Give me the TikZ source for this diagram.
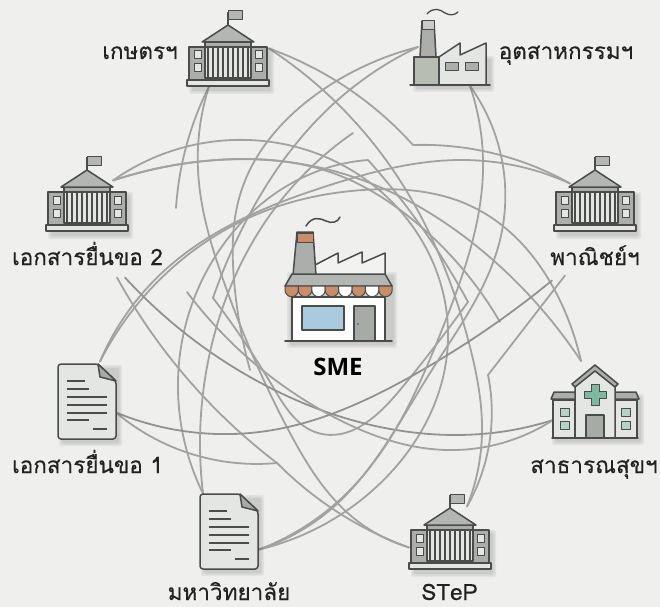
\documentclass[tikz,border=0pt]{standalone}
\usepackage{fontspec}
\usetikzlibrary{calc,hobby}
\newfontfamily\thaifont[Script=Thai,FakeBold=0.4]{Loma}
\newfontfamily\latinbold{Open Sans}
\definecolor{paper}{HTML}{EFEFED}
\definecolor{ink}{HTML}{4A4C4C}
\definecolor{txt}{HTML}{222222}
\definecolor{wire}{HTML}{A2A2A2}
\definecolor{wiredk}{HTML}{929292}
\definecolor{roofg}{HTML}{B4B6B3}
\definecolor{bodyg}{HTML}{ACAEAB}
\definecolor{pale}{HTML}{E4E6E3}
\definecolor{greeng}{HTML}{B7BDB1}
\definecolor{rust}{HTML}{C98E68}
\definecolor{skyb}{HTML}{A9CBDD}
\definecolor{mint}{HTML}{7DB8A0}
\definecolor{doorg}{HTML}{A6ABA6}
\tikzset{
  conn/.style={draw=wire,line width=1.8pt,line join=round,line cap=round},
  conndk/.style={conn,draw=wiredk},
  iconarea/.style={inner sep=0pt,outer sep=0pt,minimum width=#1},
  lab/.style={inner sep=0pt,anchor=base,text=txt,font=\thaifont\fontsize{22.5}{25}\selectfont},
  o/.style={draw=ink,line width=1.5pt,line join=round},
  oo/.style={draw=ink,line width=1pt,line join=round},
}
\newcommand{\softshadow}[4]{%
  \foreach \g in {4,2.5,1}{\fill[black,opacity=.05,rounded corners=2pt] (#1-\g+3,#2-\g+3) rectangle (#3+\g+3,#4+\g+3);}}
\newcommand{\bldg}[2]{%
  \begin{scope}[shift={(#1,#2)}]
    \softshadow{-38}{38}{39}{77}
    \draw[ink,line width=1.2pt] (0,16)--(0,2);
    \draw[oo,fill=roofg] (0,1)rectangle(14,10);
    \draw[o,fill=bodyg] (-39,37)rectangle(39,70);
    \draw[o,fill=pale] (-23,37)rectangle(23,68);
    \foreach \cx in {-20,-15,-10,-5,0,5,10,15,20}{\draw[ink,line width=1.4pt] (\cx,38)--(\cx,67);}
    \foreach \cy in {41,54}{
      \draw[oo,fill=pale] (-34,\cy)rectangle(-27,\cy+8);
      \draw[oo,fill=pale] (27,\cy)rectangle(34,\cy+8);}
    \draw[o,fill=bodyg] (-23,32)rectangle(23,37);
    \draw[o,fill=roofg] (-26,32)--(0,15)--(26,32)--cycle;
    \draw[o,fill=pale] (-41,70)rectangle(41,76);
  \end{scope}}
\newcommand{\docu}[2]{%
  \begin{scope}[shift={(#1,#2)}]
    \softshadow{2}{2}{57}{75}
    \draw[o,fill=pale,rounded corners=3pt] (0,0)--(40,0)--(58,17)--(58,75)--(0,75)--cycle;
    \draw[o,fill=doorg] (40,0)--(58,17)--(42,13)--cycle;
    \draw[ink,line width=1.1pt] (9,17)--(27,17) (9,25)--(31,25) (9,33)--(49,33) (9,41)--(49,41) (9,49)--(49,49) (9,56)--(31,56) (35,65)--(49,65);
  \end{scope}}
\begin{document}
\begin{tikzpicture}[x=1pt,y=-1pt]
\useasboundingbox (0,0) rectangle (660,607);
\fill[paper] (0,0) rectangle (660,607);

% ---------- icon areas ----------
\node[iconarea=84pt,minimum height=77pt] (kaset) at (228,48.5) {};
\node[iconarea=84pt,minimum height=77pt] (docb) at (87,193.5) {};
\node[iconarea=84pt,minimum height=77pt] (comm) at (595,193.5) {};
\node[iconarea=84pt,minimum height=77pt] (step) at (450,531.5) {};
\node[iconarea=58pt,minimum height=75pt] (doca) at (87,401.5) {};
\node[iconarea=58pt,minimum height=75pt] (uni) at (229,531.5) {};
\node[iconarea=80pt,minimum height=78pt] (ind) at (450,47) {};
\node[iconarea=88pt,minimum height=76pt] (hosp) at (595,401) {};
\node[iconarea=108pt,minimum height=125pt] (sme) at (338,280) {};

% ---------- ports ----------
\coordinate (kS) at ($(kaset)+(-19,38)$);
\coordinate (kE) at ($(kaset)+(41,0)$);
\coordinate (iL) at ($(ind)+(-32,0)$);
\coordinate (iB) at ($(ind)+(20,39)$);
\coordinate (cR) at ($(comm)+(-25,-10)$);
\coordinate (cB1) at ($(comm)+(-43,87)$);
\coordinate (cB2) at ($(comm)+(-30,82)$);
\coordinate (dT) at ($(docb)+(26,-13)$);
\coordinate (dB1) at ($(docb)+(30,84)$);
\coordinate (dB2) at ($(docb)+(38,84)$);
\coordinate (aT) at ($(doca)+(13,-40)$);
\coordinate (aR) at ($(doca)+(29,11)$);
\coordinate (uT) at ($(uni)+(-26,-38)$);
\coordinate (uR) at ($(uni)+(30,18)$);
\coordinate (hT) at ($(hosp)+(-14,-40)$);
\coordinate (hL) at ($(hosp)+(-42,19)$);
\coordinate (sL) at ($(step)+(-41,16)$);
\coordinate (sT) at ($(step)+(17,-25)$);
\coordinate (kFree) at (176,208);
\coordinate (kkA) at (413,145);
\coordinate (mrgA) at (250,370);
\coordinate (kkB) at (213,298);
\coordinate (kkD) at (468,302);
\coordinate (kkE) at (368,160);
\coordinate (kkF) at (277,463);
\coordinate (kkG) at (488,375);
\coordinate (fr1) at (500,322);
\coordinate (fr2) at (187,292);
\coordinate (fr3) at (353,133);

% ---------- connectors ----------
\draw[conn] (kS) to[curve through={(188,140)}] (kFree);
\draw[conn] (kS) to[curve through={(198,170) .. (225,285) .. (290,433) .. (350,515)}] (sL);
\draw[conn] (kE) to[curve through={(373,107)}] (kkA);
\draw[conn] (kkA) to[curve through={(500,155)}] (cR);
\draw[conn] (kE) to[curve through={(393,170) .. (470,347) .. (482,433)}] (sT);
\draw[conn] (iL) to[curve through={(330,85) .. (240,195) .. (234,280)}] (mrgA);
\draw[conn] (iL) to[curve through={(330,107) .. (240,233)}] (kkB);
\draw[conn] (kkB) to[curve through={(273,387) .. (318,433) .. (400,390)}] (kkD);
\draw[conn] (kkD) to[curve through={(415,218)}] (kkE);
\draw[conn] (kkE) to[curve through={(330,167) .. (213,260) .. (178,390)}] (uT);
\draw[conn] (aT) to[curve through={(165,270) .. (330,185) .. (463,160)}] (cR);
\draw[conn] (aT) to[curve through={(147,293) .. (260,213) .. (363,190) .. (473,207) .. (563,307)}] (hT);
\draw[conn] (dT) to[curve through={(233,140) .. (373,185) .. (448,340) .. (373,490)}] (uR);
\draw[conn] (dT) to[curve through={(217,160) .. (330,170) .. (493,260)}] (hT);
\draw[conn] (dT) to[curve through={(217,160) .. (330,172) .. (413,220)}] (fr1);
\draw[conn] (dB1) to[curve through={(180,370)}] (kkF);
\draw[conn] (kkF) to[curve through={(363,527)}] (sL);
\draw[conndk] (dB2) to[curve through={(250,377) .. (380,427) .. (500,432)}] (hL);
\draw[conn] (hL) to[curve through={(447,450) .. (330,415)}] (fr2);
\draw[conndk] (cB1) to[curve through={(410,377) .. (273,430) .. (200,433)}] (aR);
\draw[conn] (cB2) -- (kkG);
\draw[conn] (kkG) to[curve through={(491,430)}] (sT);
\draw[conn] (aR) to[curve through={(180,450)}] (kkF);
\draw[conn] (uT) to[curve through={(207,367) .. (287,193)}] (fr3);
\draw[conn] (iB) to[curve through={(500,240) .. (430,373) .. (330,510)}] (uR);
\draw[conn] (iB) to[curve through={(483,170) .. (443,327) .. (350,490)}] (uR);

% ---------- icons ----------
\bldg{228}{10}
\bldg{87}{155}
\bldg{595}{155}
\bldg{450}{493}
\docu{58}{364}
\docu{200}{494}

% factory
\softshadow{414}{57}{487}{85}
\draw[ink,line width=1.3pt,line cap=round] (427,14) .. controls (433,7) and (440,9) .. (445,13) .. controls (450,16) and (455,15) .. (458,12);
\draw[o,fill=bodyg] (420,57)--(422,21)--(434,21)--(436,57)--cycle;
\draw[oo,fill=roofg!70] (422,21)rectangle(434,30);
\draw[o,fill=pale] (439,57)--(460,43)--(460,55)--(486,43)--(486,85)--(439,85)--cycle;
\draw[o,fill=greeng] (414,57)rectangle(439,85);
\draw[oo,fill=bodyg] (445,63)rectangle(458,71);
\draw[oo,fill=bodyg] (465,63)rectangle(478,71);
\draw[o,line cap=round] (410,85)--(490,85);

% hospital
\softshadow{553}{395}{637}{438}
\draw[o,fill=pale] (553,400)rectangle(575,438);
\draw[o,fill=pale] (615,400)rectangle(637,438);
\draw[o,fill=bodyg] (551,399)--(554,392)--(576,392)--(576,399)--cycle;
\draw[o,fill=bodyg] (639,399)--(636,392)--(614,392)--(614,399)--cycle;
\draw[o,fill=pale] (575,385)--(595,370)--(615,385)--(615,438)--(575,438)--cycle;
\draw[o,fill=bodyg] (572,384)--(595,365)--(618,384)--(615,387)--(595,371)--(575,387)--cycle;
\draw[oo,fill=mint] (591,384)--(599,384)--(599,391)--(606,391)--(606,398)--(599,398)--(599,405)--(591,405)--(591,398)--(584,398)--(584,391)--(591,391)--cycle;
\draw[o,fill=doorg] (586,415)rectangle(604,438);
\foreach \cy in {408,421}{
  \draw[oo,fill=mint!60] (560,\cy)rectangle(569,\cy+8);
  \draw[oo,fill=mint!60] (621,\cy)rectangle(630,\cy+8);}
\draw[o,line cap=round] (552,438)--(638,438);

% SME shop-factory
\softshadow{288}{273}{390}{341}
\draw[ink,line width=1.5pt,line cap=round] (306,226) .. controls (312,216) and (320,218) .. (326,221) .. controls (332,224) and (338,222) .. (340,217);
\draw[o,fill=pale!50] (315,265)--(338,253)--(338,263)--(362,252)--(362,263)--(385,253)--(385,275)--(315,275)--cycle;
\draw[o,fill=bodyg] (293,275)--(297,232)--(313,232)--(316,275)--cycle;
\draw[oo,fill=rust] (297,233)rectangle(313,242);
\draw[o,fill=white!92!paper] (292,297)rectangle(385,341);
\draw[o,fill=roofg] (292,274)--(385,274)--(392,286)--(285,286)--cycle;
\foreach \i/\c in {0/rust,1/rust,2/white,3/rust,4/white,5/rust,6/white,7/rust}{
  \draw[oo,fill=\c] (285+\i*13.4,286)--++(0,4) arc[start angle=180,end angle=0,radius=6.7] --++(0,-4)--cycle;}
\draw[o,fill=skyb] (302,306)rectangle(344,330);
\draw[o,fill=doorg] (354,306)rectangle(375,341);
\fill[ink] (358,324) circle (.8);
\draw[o,line cap=round,line width=1.8pt] (285,341)--(392,341);

% ---------- labels ----------
\node[lab] (lkaset) at (140,59) {เกษตรฯ};
\node[lab] (lind) at (566,59) {อุตสาหกรรมฯ};
\node[lab] (ldocb) at (87.5,265) {เอกสารยื่นขอ 2};
\node[lab] (lcomm) at (595,265) {พาณิชย์ฯ};
\node[lab] (ldoca) at (87.5,473) {เอกสารยื่นขอ 1};
\node[lab] (lhosp) at (594,473) {สาธารณสุขฯ};
\node[lab] (luni) at (229,600) {มหาวิทยาลัย};
\node[lab] (lstep) at (449.5,600) {STeP};
\node[inner sep=0pt,text=black,font=\latinbold\bfseries\fontsize{24}{26}\selectfont] (lsme) at (338,367) {SME};
\end{tikzpicture}
\end{document}
